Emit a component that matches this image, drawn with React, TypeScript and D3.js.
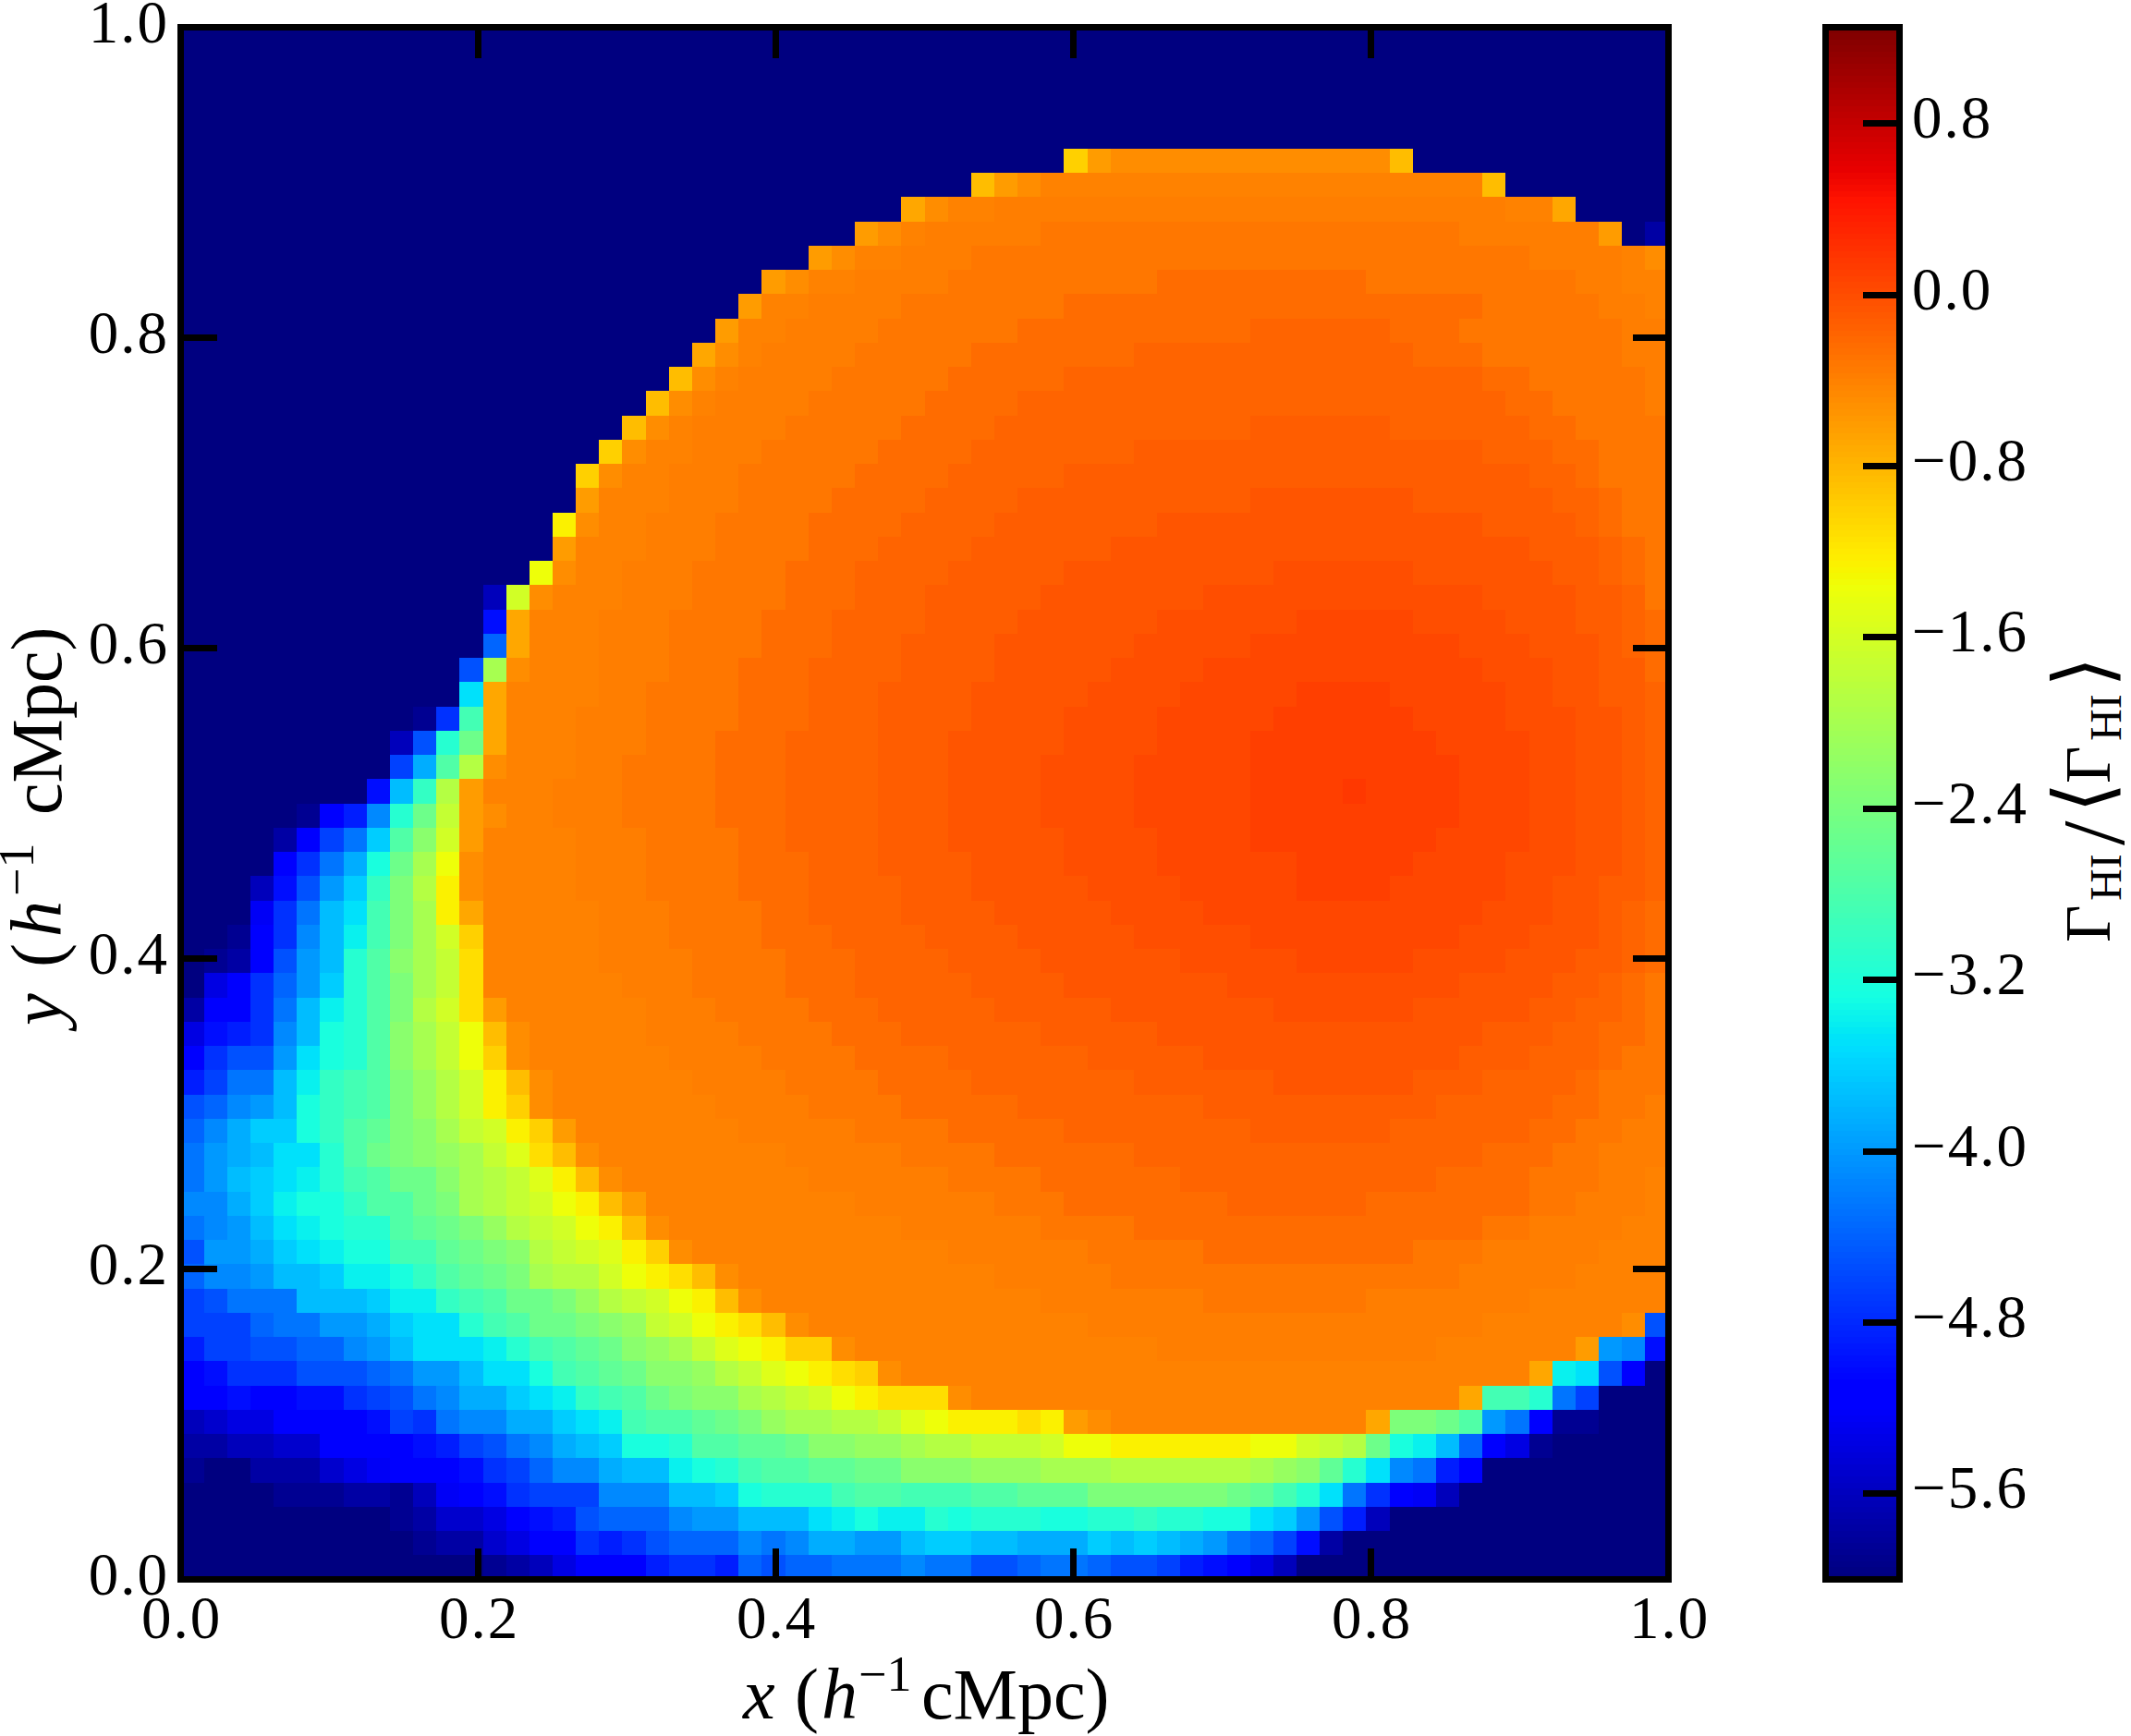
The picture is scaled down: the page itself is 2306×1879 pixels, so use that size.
import * as d3 from 'd3';

const W = 2306;
const H = 1879;
const FONT = '"Liberation Serif", serif';

// Plot frame, colour bar frame (spine centre lines)
const PLOT = { left: 195.5, right: 1805.5, top: 29.5, bottom: 1709.5 };
const BAR = { left: 1975.5, right: 2055.5, top: 29.5, bottom: 1709.5 };
const SPINE = 7;

const AXIS_TICKS = [0, 0.2, 0.4, 0.6, 0.8, 1];
const BAR_TICKS = [-5.6, -4.8, -4, -3.2, -2.4, -1.6, -0.8, 0, 0.8];
const V_MIN = -6;
const V_MAX = 1.25;
const GRID_N = 64;

// Level codes used in the rows below and the log ratio each one stands for
const LEVEL_CODES = 'aAbBcCdDeEfFgGhHiIjJkKlLmMnNoOpPqQrRsStTuvwxyz0123456789'.split('');
const LEVEL_VALUES = [
  -6, -5.875, -5.75, -5.625, -5.5, -5.375, -5.25, -5.125, -5, -4.875, -4.75, -4.625, -4.5, -4.375,
  -4.25, -4.125, -4, -3.875, -3.75, -3.625, -3.5, -3.375, -3.25, -3.125, -3, -2.875, -2.75, -2.625,
  -2.5, -2.375, -2.25, -2.125, -2, -1.875, -1.75, -1.625, -1.5, -1.375, -1.25, -1.125, -1, -0.85,
  -0.7, -0.6, -0.5, -0.42, -0.37, -0.31, -0.25, -0.19, -0.13, -0.07, -0.01, 0.05, 0.1, 0.16,
];

// One string per image row, top to bottom. Token = level code + last column of that run.
const ROW_RUNS = [
  'a63',
  'a63',
  'a63',
  'a63',
  'a63',
  'a37 u38 x39 y51 v52 a63',
  'a33 v34 x35 y36 z55 v56 a63',
  'a30 w31 y32 z34 056 z58 w59 a63',
  'a28 x29 y30 z31 036 154 060 x61 a62 b63',
  'a26 x27 y28 z30 033 157 061 z62 y63',
  'a24 x25 y26 z28 032 141 250 159 061 z63',
  'a23 x24 z26 030 137 255 160 062 z63',
  'a22 x23 z25 029 135 245 351 254 161 063',
  'a21 w22 y23 z24 028 133 240 352 255 161 063',
  'a20 v21 y22 z23 027 132 237 355 257 162 063',
  'a19 v20 y21 z22 026 131 235 356 258 162 063',
  'a18 v19 y20 z21 025 130 234 345 451 357 259 163',
  'a17 u18 y19 z21 024 129 233 340 455 358 260 163',
  'a16 u17 y18 z20 023 128 232 337 457 359 260 163',
  'a16 x17 z20 023 127 231 335 445 552 458 360 261 163',
  'a15 t16 y17 z19 022 126 230 334 441 555 459 360 261 163',
  'a15 x16 z19 022 126 229 333 439 557 460 361 262 163',
  'a14 S15 y16 z18 021 125 228 332 437 546 652 558 460 361 262 163',
  'a12 B13 R14 y15 z18 021 125 228 331 436 543 655 559 461 362 163',
  'a12 e13 w14 z17 020 124 227 331 435 541 647 752 656 559 461 362 263',
  'a12 G13 w14 z17 020 124 227 330 434 540 645 754 657 560 461 362 263',
  'a11 g12 q13 y14 z17 020 123 226 330 434 539 643 755 658 560 462 263',
  'a11 k12 w13 z17 019 123 226 329 433 538 642 747 851 756 658 560 462 363',
  'a9 A10 f11 M12 w13 z16 019 123 226 329 433 537 641 746 852 756 659 561 462 363',
  'a8 B9 g10 L11 o12 w13 z16 019 122 225 329 432 537 641 745 853 757 659 561 462 363',
  'a8 F9 I10 n11 Q12 y13 z16 018 122 225 329 432 536 640 745 854 757 659 561 462 363',
  'a7 e8 j9 m10 Q11 x12 z15 018 122 225 329 432 536 640 745 849 950 854 757 659 561 462 363',
  'a4 A5 D6 E7 H8 L9 o10 r11 x12 y13 z15 018 122 225 329 432 536 640 745 854 757 659 561 462 363',
  'a3 b4 D5 F6 h7 J8 n9 p10 R11 x12 z16 019 123 225 329 432 537 641 745 853 757 659 561 462 363',
  'a3 D4 f5 h6 I7 l8 o9 q10 S11 y12 z16 019 123 226 329 433 537 641 747 852 756 659 561 462 363',
  'a2 B3 e4 g5 i6 J7 m8 O9 Q10 t11 y12 z16 019 123 226 330 433 538 642 747 851 756 658 560 462 363',
  'a2 d3 f4 h5 j6 k7 M8 O9 q10 t11 w12 z17 020 124 226 330 434 539 643 755 658 560 461 362 263',
  'a1 A2 D3 f4 H5 j6 K7 M8 O9 q10 R11 u12 z17 020 124 227 331 435 540 645 754 657 560 461 362 263',
  'a0 A1 b2 D3 g4 i5 j6 L7 n8 p9 q10 r11 T12 z17 021 125 228 332 436 542 647 752 656 559 461 362 263',
  'a0 C1 D2 f3 G4 i5 J6 L7 n8 O9 q10 r11 T12 z18 021 125 228 333 437 544 654 558 460 361 262 163',
  'b0 D2 f3 h4 j5 K6 L7 n8 O9 Q10 R11 T12 x13 z19 022 126 229 334 439 546 652 557 459 361 262 163',
  'C0 e1 E2 f3 H4 j5 l6 L7 n8 p9 q10 r11 S12 v13 y14 z19 023 127 230 336 441 555 458 360 262 163',
  'D0 f1 g3 i4 k5 l6 L7 n8 p9 q10 r11 S12 u13 y14 z20 024 128 232 338 443 554 457 360 261 163',
  'E0 F1 h3 j4 K5 m6 M7 n8 O9 P10 Q11 R12 t13 v14 y15 z21 025 129 233 340 446 552 455 359 260 163',
  'g0 G1 H2 i3 j4 l5 m6 M7 n8 O9 P10 Q11 R12 t13 u14 y15 z22 026 130 235 343 453 358 260 162 063',
  'G0 H1 I2 J4 l5 m6 n7 N8 O9 p10 q11 r12 R13 t14 u15 x16 z23 028 132 237 345 451 357 259 161 063',
  'h0 i1 I2 j3 k5 L6 n7 o8 O9 p10 P11 q12 r13 s14 T15 v16 y17 z25 030 134 240 355 258 160 063',
  'h0 i1 j2 J3 k4 K5 L6 M7 n8 o10 p11 q12 Q13 r14 s15 t16 v17 y18 z26 032 136 242 353 257 160 062 z63',
  'H1 I2 J3 K4 l6 m7 n9 o10 O11 q12 Q13 r14 R15 S16 t17 v18 x19 z28 034 137 244 350 257 159 062 z63',
  'h0 H1 i2 j3 k4 K5 l6 L8 n9 N10 o11 O12 P13 Q14 r15 R16 S17 t18 v19 y20 z30 036 140 255 157 061 z63',
  'g0 i2 I3 J4 k5 K6 l8 M10 N11 o12 O13 p14 Q15 r16 R17 s18 t19 u20 y21 z32 038 143 252 155 060 z63',
  'G0 H2 i3 j5 J6 K8 l9 m10 n11 N12 o13 O14 q15 Q17 R18 S19 t20 T21 v22 y23 z34 039 154 059 z63',
  'F0 g1 h4 j7 J8 K10 m11 M12 n13 o15 O16 P17 Q18 r19 R20 S21 t22 v23 y24 z36 043 150 057 z63',
  'F2 G3 h5 i7 I8 J9 k11 L12 M13 n14 o16 O17 p18 P19 r20 R21 S22 t23 T24 v25 y26 z38 055 z61 y62 g63',
  'E0 F2 g4 G6 H7 i8 j9 k12 K13 L14 M15 n16 N17 o18 p19 P20 q21 r22 s23 S24 t25 u27 y28 z41 053 z59 x60 i61 H62 e63',
  'D0 e1 f4 g7 G8 h9 i11 j12 k14 l15 M16 n17 N18 o19 p21 P22 Q23 r24 s25 S26 t27 T28 u29 y30 z57 w58 K59 k60 g61 D62 a63',
  'D1 e2 D4 e6 f7 F8 g9 h10 H11 I13 J14 k15 K16 m17 M18 n19 o20 O21 p23 q24 Q25 r26 R27 S28 t29 T32 y33 z54 w55 M57 L58 h59 F60 a63',
  'B0 c1 C3 D7 e8 F9 f10 h11 H13 I15 J16 k17 K18 M19 n21 N22 o23 O24 P25 q27 Q29 r30 s31 S32 t35 T36 t37 x38 y39 z50 w51 O53 o54 n55 i56 h57 D58 A60 a63',
  'b1 B3 c5 D9 e10 E11 F12 g13 h14 H15 I16 j17 J18 l20 L21 n23 N25 o26 p28 P30 q31 Q33 r36 R37 S39 t45 S47 R48 r49 Q50 o51 l52 K53 j54 G55 D56 C57 A58 a63',
  'A0 a2 b5 c6 C7 d8 D11 e12 f13 F14 G15 H17 I18 j20 K21 l22 L23 M24 n26 N28 o30 p33 P36 q39 Q45 q46 P47 p48 N49 L50 k51 H52 h53 E54 D55 a63',
  'a3 A6 b8 A9 B10 d11 D12 e13 f14 F17 H20 j22 J23 l24 L27 M28 n30 M33 n35 N38 O44 o45 N46 M47 L48 k49 h50 f51 D52 d53 B54 a63',
  'a8 A9 b10 c12 C13 D14 e15 E16 g17 G20 H21 i23 j26 k27 K28 l29 K31 L32 l33 L36 l38 L40 m41 L43 l45 k46 J47 i48 g49 E50 B51 a63',
  'a9 A10 b12 c13 C14 D16 f17 E18 f19 g20 G23 H24 h25 H26 I28 i30 j31 J33 j35 I38 J39 j40 J41 j42 I43 i44 h45 G46 F47 e48 b49 a63',
  'a12 A13 b14 B15 C16 D19 E20 f22 E23 G24 g25 G27 h30 H31 h33 g35 G36 h38 G39 g41 F42 E43 e44 D45 C46 B47 a63',
];

const levelValue = new Map(LEVEL_CODES.map((c, i) => [c, LEVEL_VALUES[i]]));

const grid = ROW_RUNS.map((row) => {
  const out: number[] = [];
  row.split(' ').forEach((tok) => {
    const last = +tok.slice(1);
    while (out.length <= last) out.push(levelValue.get(tok[0]) as number);
  });
  return out;
});

// matplotlib jet, one piecewise scale per channel
const jetR = d3.scaleLinear().domain([0, 0.35, 0.66, 0.89, 1]).range([0, 0, 1, 1, 0.5]);
const jetG = d3.scaleLinear().domain([0, 0.125, 0.375, 0.64, 0.91, 1]).range([0, 0, 1, 1, 0, 0]);
const jetB = d3.scaleLinear().domain([0, 0.11, 0.34, 0.65, 1]).range([0.5, 1, 1, 0, 0]);
const jet = (t: number) => d3.rgb(jetR(t) * 255, jetG(t) * 255, jetB(t) * 255).formatRgb();

const toLevel = d3.scaleLinear().domain([V_MIN, V_MAX]).range([0, 256]).clamp(true);
const colorOf = (v: number) => jet(Math.min(Math.floor(toLevel(v)), 255) / 255);

const xScale = d3.scaleLinear().domain([0, 1]).range([PLOT.left, PLOT.right]);
const yScale = d3.scaleLinear().domain([0, 1]).range([PLOT.bottom, PLOT.top]);
const barScale = d3.scaleLinear().domain([V_MIN, V_MAX]).range([BAR.bottom, BAR.top]);

const fmt = (v: number) => v.toFixed(1).replace('-', '\u2212');
const barLevels = d3.range(256);

const GAMMA = '\u0393';
const ANGLE_L = '\u27E8';
const ANGLE_R = '\u27E9';
const MATH_FONT = '"DejaVu Sans"';

// x or y (h^-1 cMpc), pieces placed along the baseline
function AxisLabel({ name, gap }: { name: string; gap: number[] }) {
  return (
    <>
      <tspan x={gap[0]} fontStyle="italic">{name}</tspan>
      <tspan x={gap[1]}>(</tspan>
      <tspan x={gap[2]} fontStyle="italic">h</tspan>
      <tspan x={gap[3]} dy={-30} fontSize={54}>{'\u22121'}</tspan>
      <tspan x={gap[4]} dy={30}>cMpc)</tspan>
    </>
  );
}

export default function App() {
  return (
    <svg
      width={W}
      height={H}
      viewBox={`0 0 ${W} ${H}`}
      style={{ position: 'absolute', left: 0, top: 0, display: 'block', background: '#fff' }}
      fontFamily={FONT}
      fill="#000"
    >
      {/* image cells */}
      <g shapeRendering="crispEdges">
        {grid.map((row, r) =>
          row.map((v, c) => {
            const x0 = Math.round(xScale(c / GRID_N));
            const x1 = Math.round(xScale((c + 1) / GRID_N));
            const y0 = Math.round(yScale(1 - r / GRID_N));
            const y1 = Math.round(yScale(1 - (r + 1) / GRID_N));
            return <rect key={`${r}-${c}`} x={x0} y={y0} width={x1 - x0} height={y1 - y0} fill={colorOf(v)} />;
          })
        )}
      </g>

      {/* ticks, all four sides */}
      <g stroke="#000" strokeWidth={SPINE} shapeRendering="crispEdges">
        {AXIS_TICKS.map((t) => (
          <g key={t}>
            <line x1={xScale(t)} x2={xScale(t)} y1={PLOT.bottom} y2={1676} />
            <line x1={xScale(t)} x2={xScale(t)} y1={PLOT.top} y2={63} />
            <line y1={yScale(t)} y2={yScale(t)} x1={PLOT.left} x2={234.5} />
            <line y1={yScale(t)} y2={yScale(t)} x1={PLOT.right} x2={1767} />
          </g>
        ))}
      </g>
      <rect
        x={PLOT.left}
        y={PLOT.top}
        width={PLOT.right - PLOT.left}
        height={PLOT.bottom - PLOT.top}
        fill="none"
        stroke="#000"
        strokeWidth={SPINE}
      />

      {/* tick labels */}
      <g fontSize={65} letterSpacing={2}>
        {AXIS_TICKS.map((t) => (
          <g key={t}>
            <text x={xScale(t) + 1} y={1773} textAnchor="middle">{t.toFixed(1)}</text>
            <text x={183} y={yScale(t) + 16.5} textAnchor="end">{t.toFixed(1)}</text>
          </g>
        ))}
      </g>

      {/* axis labels */}
      <text transform="translate(804,1860)" fontSize={78}>
        <AxisLabel name="x" gap={[0, 56, 85, 125, 193]} />
      </text>
      <text transform="translate(66,1110) rotate(-90)" fontSize={78}>
        <AxisLabel name="y" gap={[0, 63, 96, 140, 228]} />
      </text>

      {/* colour bar */}
      <g shapeRendering="crispEdges">
        {barLevels.map((i) => {
          const y0 = Math.round(barScale(V_MIN + ((i + 1) / 256) * (V_MAX - V_MIN)));
          const y1 = Math.round(barScale(V_MIN + (i / 256) * (V_MAX - V_MIN)));
          return <rect key={i} x={BAR.left} y={y0} width={BAR.right - BAR.left} height={y1 - y0} fill={jet(i / 255)} />;
        })}
      </g>
      <g stroke="#000" strokeWidth={SPINE} shapeRendering="crispEdges">
        {BAR_TICKS.map((t) => (
          <line key={t} x1={BAR.right} x2={2016} y1={barScale(t)} y2={barScale(t)} />
        ))}
      </g>
      <rect
        x={BAR.left}
        y={BAR.top}
        width={BAR.right - BAR.left}
        height={BAR.bottom - BAR.top}
        fill="none"
        stroke="#000"
        strokeWidth={SPINE}
      />
      <g fontSize={65} letterSpacing={2}>
        {BAR_TICKS.map((t) => (
          <text key={t} x={2069} y={barScale(t) + 15.5}>{fmt(t)}</text>
        ))}
      </g>
      <text transform="translate(2283,1020) rotate(-90)" fontSize={70}>
        <tspan x={0} y={0}>{GAMMA}</tspan>
        <tspan x={45} y={12} fontSize={48}>HI</tspan>
        <tspan x={105} y={15} fontSize={95}>/</tspan>
        <tspan x={140} y={0} fontFamily={MATH_FONT} fontSize={86}>{ANGLE_L}</tspan>
        <tspan x={172} y={0}>{GAMMA}</tspan>
        <tspan x={218} y={12} fontSize={48}>HI</tspan>
        <tspan x={276} y={0} fontFamily={MATH_FONT} fontSize={86}>{ANGLE_R}</tspan>
      </text>
    </svg>
  );
}
